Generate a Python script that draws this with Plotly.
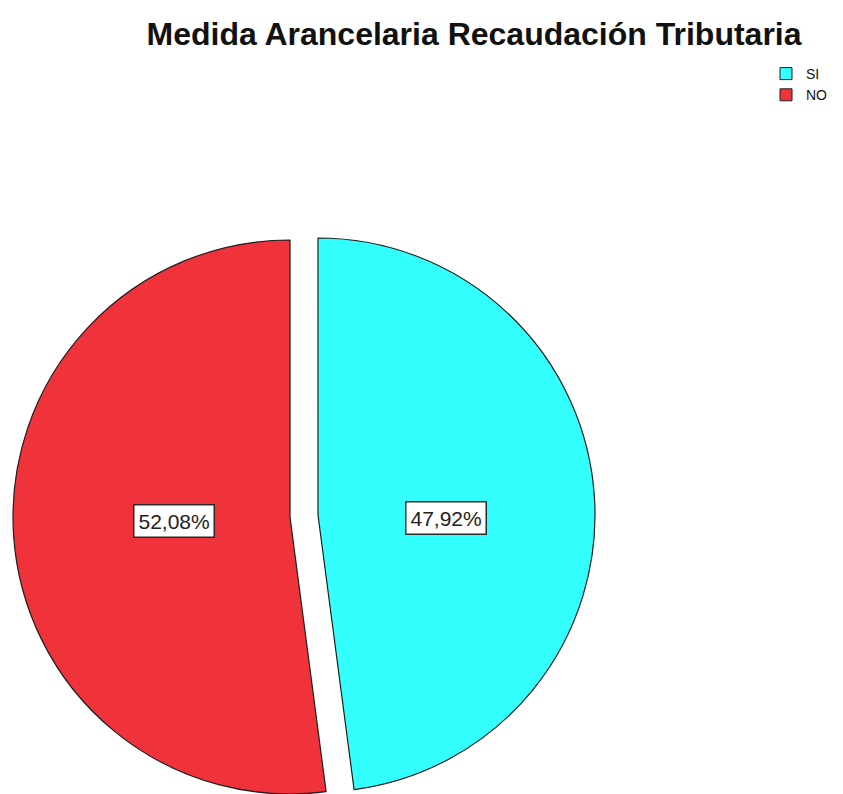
import plotly.graph_objects as go

# Survey answers and their shares (%)
labels = ["SI", "NO"]
values = [47.92, 52.08]
colors = ["#33FFFF", "#F0323A"]
title_text = "Medida Arancelaria Recaudación Tributaria"

W, H = 843, 794
R = 277                     # pie radius in px
base_center = (290, 517)    # centre of the NO slice
pull_px = 28                # SI slice is pulled out by this much (px)

line_col = "#1e1e1e"
transparent = "rgba(0,0,0,0)"


def domain_for(cx, cy, r):
    return dict(x=[(cx - r) / W, (cx + r) / W],
                y=[1 - (cy + r) / H, 1 - (cy - r) / H])


fig = go.Figure()

# NO slice (not pulled)
fig.add_trace(go.Pie(
    labels=labels, values=values, sort=False, direction="clockwise", rotation=0,
    marker=dict(colors=[transparent, colors[1]],
                line=dict(color=line_col, width=[0, 1.2])),
    textinfo="none", hoverinfo="label+percent", showlegend=False,
    domain=domain_for(base_center[0], base_center[1], R),
))

# SI slice, exploded towards the right
fig.add_trace(go.Pie(
    labels=labels, values=values, sort=False, direction="clockwise", rotation=0,
    marker=dict(colors=[colors[0], transparent],
                line=dict(color=line_col, width=[1.2, 0])),
    textinfo="none", hoverinfo="label+percent", showlegend=False,
    domain=domain_for(base_center[0] + pull_px, base_center[1] - 2, R),
))

# Legend carrier: tiny pie hidden beneath the legend box
fig.add_trace(go.Pie(
    labels=labels, values=values, sort=False, direction="clockwise",
    marker=dict(colors=colors, line=dict(color=line_col, width=1)),
    textinfo="none", hoverinfo="skip", showlegend=True,
    domain=dict(x=[0.985, 0.986], y=[0.9, 0.901]),
))

# Percentage labels in white boxes
label_pos = {"SI": (446, 518), "NO": (174, 521)}
for lab, val in zip(labels, values):
    px, py = label_pos[lab]
    fig.add_annotation(
        x=px / W, y=1 - py / H, xref="paper", yref="paper",
        text=f"{val:.2f}%".replace(".", ","), showarrow=False,
        font=dict(family="Liberation Sans, Arial", size=21, color="#222222"),
        bgcolor="white", bordercolor="#2a2a2a", borderwidth=1.5, borderpad=4,
        xanchor="center", yanchor="middle",
    )

fig.update_layout(
    width=W, height=H,
    margin=dict(l=0, r=0, t=0, b=0),
    paper_bgcolor="white", plot_bgcolor="white",
    title=dict(text=title_text, x=474 / W, xanchor="center",
               y=1 - 34 / H, yanchor="middle",
               font=dict(family="Liberation Sans, Arial", size=32, color="#111111",
                         weight="bold"),
               ),
    legend=dict(x=766 / W, xanchor="left", y=1 - 58 / H, yanchor="top",
                bgcolor="white", borderwidth=0, traceorder="normal",
                font=dict(family="Liberation Sans, Arial", size=14, color="#111111"),
                tracegroupgap=0),
)

fig.write_html("out.html")
